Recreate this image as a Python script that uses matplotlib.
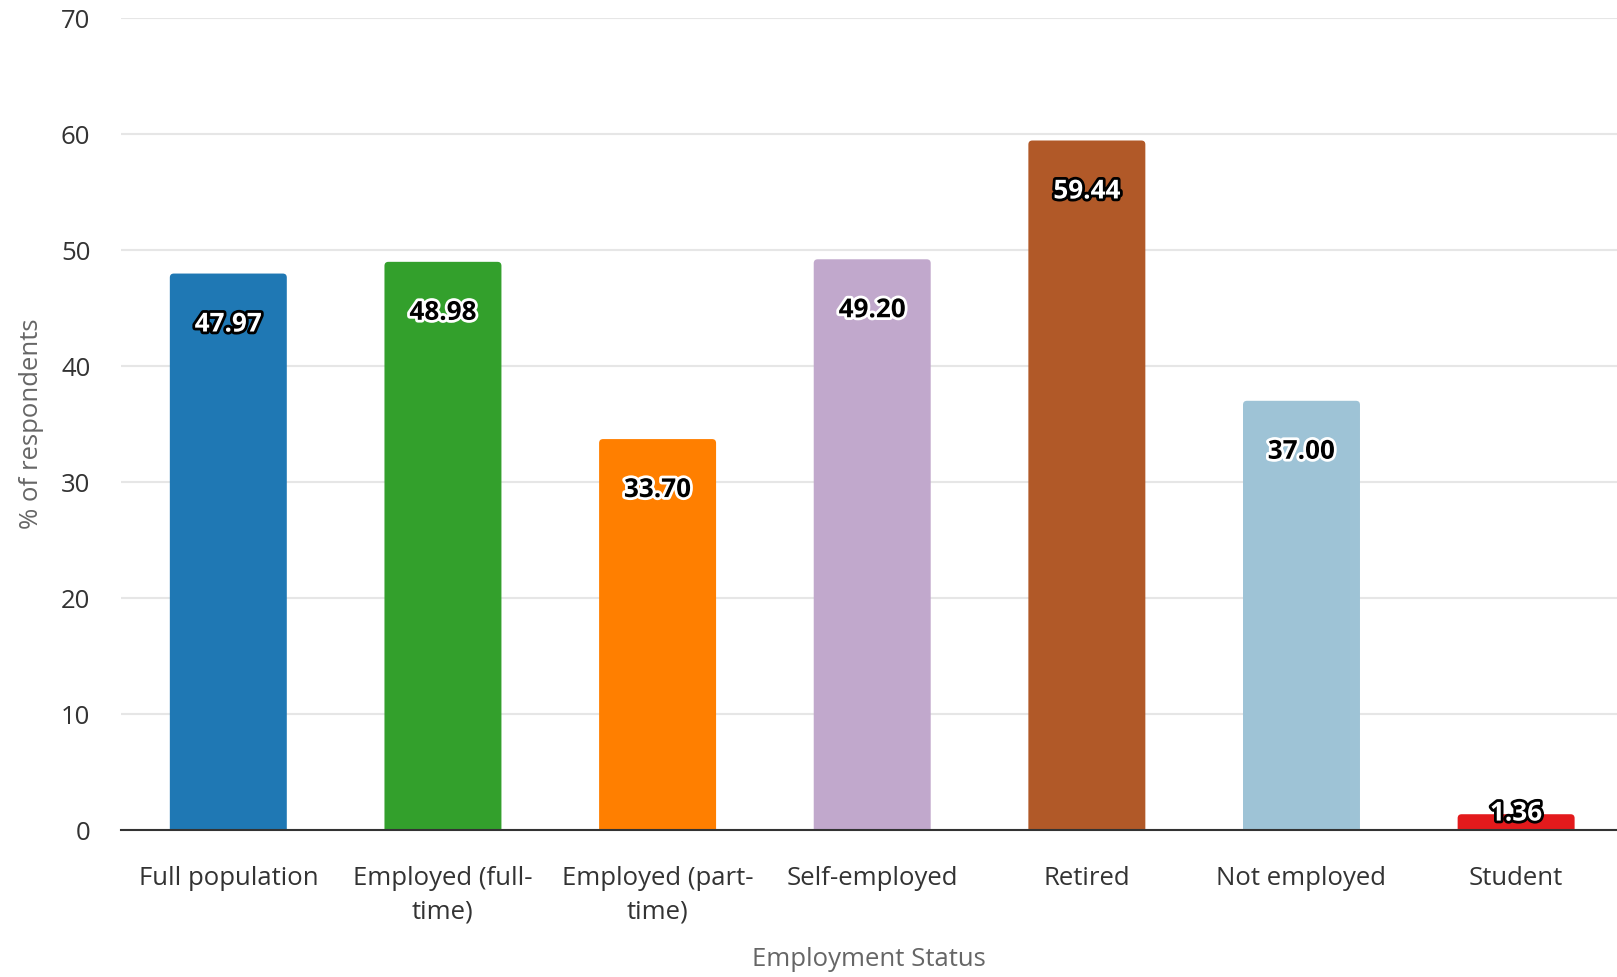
import matplotlib
matplotlib.use("Agg")
import matplotlib.pyplot as plt
import matplotlib.patheffects as pe
from matplotlib.patches import FancyBboxPatch

categories = ["Full population", "Employed (full-\ntime)", "Employed (part-\ntime)",
              "Self-employed", "Retired", "Not employed", "Student"]
values = [47.97, 48.98, 33.70, 49.20, 59.44, 37.00, 1.36]
colors = ["#1f78b4", "#33a02c", "#ff7f00", "#c1a8cc", "#b15928", "#9ec3d6", "#e31a1c"]
label_colors = ["white", "black", "black", "black", "white", "black", "white"]
y_ticks = [0, 10, 20, 30, 40, 50, 60, 70]

plt.rcParams['font.family'] = ['Open Sans', 'DejaVu Sans']

W, H = 1617, 977
L, R, T, B = 121, 1617, 18, 830
fig = plt.figure(figsize=(W / 100, H / 100), dpi=100)
ax = fig.add_axes([L / W, 1 - B / H, (R - L) / W, (B - T) / H])

x = list(range(len(categories)))
bars = ax.bar(x, values, width=0.545, color=colors, zorder=3)

# rounded top corners: replace rectangles with rounded boxes of the same geometry
ax.set_xlim(-0.5, 6.47)
ax.set_ylim(0, 70)
px_x = 6.97 / (R - L)   # data units per pixel (x)
px_y = 70 / (B - T)     # data units per pixel (y)
for rect, c in zip(bars, colors):
    rect.set_visible(False)
    bx, by = rect.get_x(), rect.get_y()
    bw, bh = rect.get_width(), rect.get_height()
    r = 4 * px_x
    fb = FancyBboxPatch((bx, by - 10 * px_y), bw, bh + 10 * px_y,
                        boxstyle=f"round,pad=0,rounding_size={r}",
                        mutation_aspect=px_y / px_x,
                        facecolor=c, edgecolor="none", zorder=3, clip_on=True)
    ax.add_patch(fb)

for xi, v, lc in zip(x, values, label_colors):
    oc = "black" if lc == "white" else "white"
    y = v - 4.35 if v > 10 else v + 0.1
    ax.text(xi, y, f"{v:.2f}", ha="center", va="center", fontsize=18.8, fontweight="bold",
            color=lc, zorder=5,
            path_effects=[pe.withStroke(linewidth=4, foreground=oc)])

ax.set_yticks(y_ticks)
ax.set_yticklabels([str(t) for t in y_ticks])
ax.set_xticks(x)
ax.set_xticklabels(categories, linespacing=1.42)
ax.tick_params(axis="y", length=0, pad=22, labelsize=18.5, labelcolor="#333333")
ax.tick_params(axis="x", length=0, pad=26, labelsize=18.5, labelcolor="#333333")

ax.grid(axis="y", color="#e6e6e6", linewidth=1.5, zorder=0)
ax.set_axisbelow(True)
for s in ["top", "right", "left"]:
    ax.spines[s].set_visible(False)
ax.spines["bottom"].set_color("#333333")
ax.spines["bottom"].set_linewidth(1.5)
ax.spines["bottom"].set_zorder(4)

ax.set_ylabel("% of respondents", fontsize=18.5, color="#666666")
ax.set_xlabel("Employment Status", fontsize=18.5, color="#666666")
ax.yaxis.set_label_coords((44 - L) / (R - L), 0.5)
ax.xaxis.set_label_coords(0.5, (B - 947) / (B - T))

fig.savefig("out.png", dpi=100)
